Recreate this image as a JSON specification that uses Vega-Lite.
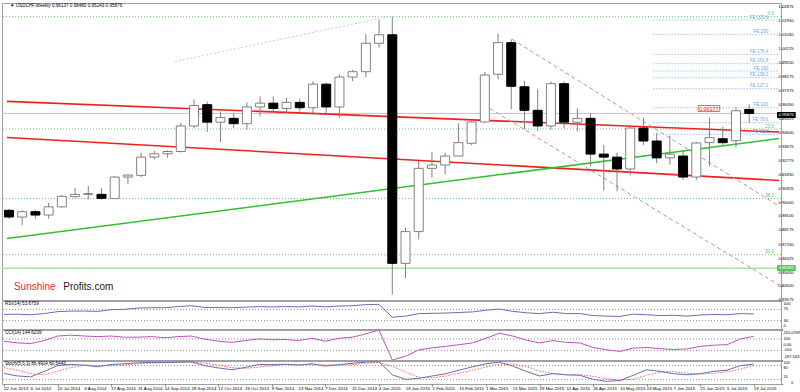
{
"$schema": "https://vega.github.io/schema/vega-lite/v6.json",
"background": "white",
"padding": {"left": 0, "top": 2, "right": 0, "bottom": 0},
"spacing": 1,
"bounds": "flush",
"config": {"font": "Liberation Sans", "view": {"stroke": "#a0a0a0", "strokeWidth": 1}, "axis": {"grid": false, "domain": false, "tickColor": "#808080", "tickSize": 1.5, "labelPadding": 1, "labelFontSize": 4.2, "labelColor": "#000000", "labelFont": "Liberation Sans", "title": null}},
"datasets": {
"w": [
{"d":"2014-06-22","o":0.8950,"h":0.8960,"l":0.8895,"c":0.8906,"r":52,"cc":58,"k":46,"s":71},
{"d":"2014-06-29","o":0.8906,"h":0.8952,"l":0.8853,"c":0.8941,"r":53,"cc":30,"k":35,"s":60},
{"d":"2014-07-06","o":0.8941,"h":0.8954,"l":0.8897,"c":0.8919,"r":51,"cc":20,"k":31,"s":45},
{"d":"2014-07-13","o":0.8919,"h":0.8999,"l":0.8894,"c":0.8973,"r":55,"cc":70,"k":55,"s":40},
{"d":"2014-07-20","o":0.8973,"h":0.9050,"l":0.8967,"c":0.9042,"r":62,"cc":150,"k":80,"s":55},
{"d":"2014-07-27","o":0.9040,"h":0.9099,"l":0.9033,"c":0.9055,"r":64,"cc":165,"k":85,"s":72},
{"d":"2014-08-03","o":0.9055,"h":0.9110,"l":0.9022,"c":0.9060,"r":64,"cc":150,"k":82,"s":82},
{"d":"2014-08-10","o":0.9055,"h":0.9095,"l":0.9022,"c":0.9029,"r":63,"cc":140,"k":75,"s":80},
{"d":"2014-08-17","o":0.9027,"h":0.9176,"l":0.9024,"c":0.9169,"r":69,"cc":150,"k":85,"s":80},
{"d":"2014-08-24","o":0.9169,"h":0.9187,"l":0.9121,"c":0.9182,"r":70,"cc":130,"k":88,"s":83},
{"d":"2014-08-31","o":0.9180,"h":0.9329,"l":0.9169,"c":0.9300,"r":75,"cc":130,"k":92,"s":88},
{"d":"2014-09-07","o":0.9300,"h":0.9340,"l":0.9285,"c":0.9322,"r":76,"cc":140,"k":94,"s":91},
{"d":"2014-09-14","o":0.9322,"h":0.9345,"l":0.9296,"c":0.9337,"r":76,"cc":120,"k":93,"s":93},
{"d":"2014-09-21","o":0.9337,"h":0.9525,"l":0.9330,"c":0.9505,"r":80,"cc":140,"k":95,"s":94},
{"d":"2014-09-28","o":0.9505,"h":0.9680,"l":0.9490,"c":0.9640,"r":83,"cc":150,"k":96,"s":95},
{"d":"2014-10-05","o":0.9645,"h":0.9665,"l":0.9465,"c":0.9530,"r":77,"cc":95,"k":80,"s":90},
{"d":"2014-10-12","o":0.9530,"h":0.9600,"l":0.9400,"c":0.9560,"r":77,"cc":60,"k":70,"s":82},
{"d":"2014-10-19","o":0.9555,"h":0.9590,"l":0.9490,"c":0.9520,"r":76,"cc":40,"k":62,"s":71},
{"d":"2014-10-26","o":0.9520,"h":0.9660,"l":0.9480,"c":0.9630,"r":78,"cc":70,"k":72,"s":68},
{"d":"2014-11-02","o":0.9630,"h":0.9700,"l":0.9570,"c":0.9655,"r":80,"cc":100,"k":85,"s":73},
{"d":"2014-11-09","o":0.9655,"h":0.9700,"l":0.9600,"c":0.9620,"r":79,"cc":85,"k":84,"s":80},
{"d":"2014-11-16","o":0.9620,"h":0.9690,"l":0.9590,"c":0.9660,"r":80,"cc":90,"k":86,"s":85},
{"d":"2014-11-23","o":0.9660,"h":0.9685,"l":0.9600,"c":0.9625,"r":79,"cc":70,"k":82,"s":84},
{"d":"2014-11-30","o":0.9625,"h":0.9800,"l":0.9590,"c":0.9780,"r":82,"cc":110,"k":88,"s":85},
{"d":"2014-12-07","o":0.9780,"h":0.9790,"l":0.9590,"c":0.9630,"r":79,"cc":60,"k":78,"s":83},
{"d":"2014-12-14","o":0.9630,"h":0.9845,"l":0.9560,"c":0.9827,"r":82,"cc":110,"k":84,"s":83},
{"d":"2014-12-21","o":0.9827,"h":0.9875,"l":0.9800,"c":0.9862,"r":83,"cc":130,"k":90,"s":84},
{"d":"2014-12-28","o":0.9862,"h":1.0108,"l":0.9827,"c":1.0049,"r":87,"cc":185,"k":95,"s":90},
{"d":"2015-01-04","o":1.0049,"h":1.0202,"l":1.0020,"c":1.0105,"r":88,"cc":255.0769,"k":97,"s":94},
{"d":"2015-01-11","o":1.0105,"h":1.0224,"l":0.8397,"c":0.8601,"r":42,"cc":-267.5431,"k":40,"s":77},
{"d":"2015-01-18","o":0.8601,"h":0.8835,"l":0.8503,"c":0.8810,"r":46,"cc":-200,"k":20,"s":52},
{"d":"2015-01-25","o":0.8810,"h":0.9274,"l":0.8759,"c":0.9226,"r":55,"cc":-90,"k":25,"s":28},
{"d":"2015-02-01","o":0.9226,"h":0.9335,"l":0.9164,"c":0.9248,"r":56,"cc":-55,"k":35,"s":27},
{"d":"2015-02-08","o":0.9248,"h":0.9329,"l":0.9187,"c":0.9307,"r":57,"cc":-30,"k":45,"s":35},
{"d":"2015-02-15","o":0.9307,"h":0.9522,"l":0.9307,"c":0.9395,"r":59,"cc":0,"k":60,"s":47},
{"d":"2015-02-22","o":0.9391,"h":0.9538,"l":0.9379,"c":0.9531,"r":61,"cc":30,"k":75,"s":60},
{"d":"2015-03-01","o":0.9531,"h":0.9860,"l":0.9526,"c":0.9840,"r":67,"cc":110,"k":88,"s":74},
{"d":"2015-03-08","o":0.9845,"h":1.0114,"l":0.9812,"c":1.0053,"r":71,"cc":200,"k":95,"s":86},
{"d":"2015-03-15","o":1.0053,"h":1.0075,"l":0.9614,"c":0.9766,"r":63,"cc":150,"k":78,"s":87},
{"d":"2015-03-22","o":0.9763,"h":0.9801,"l":0.9483,"c":0.9608,"r":58,"cc":80,"k":55,"s":76},
{"d":"2015-03-29","o":0.9608,"h":0.9746,"l":0.9472,"c":0.9505,"r":55,"cc":30,"k":35,"s":56},
{"d":"2015-04-05","o":0.9505,"h":0.9800,"l":0.9480,"c":0.9783,"r":60,"cc":70,"k":45,"s":45},
{"d":"2015-04-12","o":0.9783,"h":0.9800,"l":0.9490,"c":0.9530,"r":55,"cc":40,"k":40,"s":40},
{"d":"2015-04-19","o":0.9530,"h":0.9620,"l":0.9470,"c":0.9555,"r":55,"cc":30,"k":38,"s":41},
{"d":"2015-04-26","o":0.9555,"h":0.9590,"l":0.9240,"c":0.9320,"r":48,"cc":-50,"k":20,"s":33},
{"d":"2015-05-03","o":0.9320,"h":0.9380,"l":0.9080,"c":0.9300,"r":46,"cc":-90,"k":12,"s":23},
{"d":"2015-05-10","o":0.9300,"h":0.9330,"l":0.9075,"c":0.9222,"r":45,"cc":-118,"k":15,"s":16},
{"d":"2015-05-17","o":0.9222,"h":0.9500,"l":0.9180,"c":0.9491,"r":53,"cc":-60,"k":38,"s":21},
{"d":"2015-05-24","o":0.9491,"h":0.9560,"l":0.9380,"c":0.9406,"r":51,"cc":-50,"k":62,"s":38},
{"d":"2015-05-31","o":0.9406,"h":0.9460,"l":0.9260,"c":0.9295,"r":48,"cc":-70,"k":55,"s":52},
{"d":"2015-06-07","o":0.9295,"h":0.9440,"l":0.9250,"c":0.9320,"r":49,"cc":-85,"k":45,"s":54},
{"d":"2015-06-14","o":0.9307,"h":0.9340,"l":0.9150,"c":0.9169,"r":46,"cc":-75,"k":40,"s":47},
{"d":"2015-06-21","o":0.9169,"h":0.9400,"l":0.9150,"c":0.9393,"r":50,"cc":-30,"k":45,"s":43},
{"d":"2015-06-28","o":0.9395,"h":0.9559,"l":0.9241,"c":0.9428,"r":52,"cc":-10,"k":55,"s":47},
{"d":"2015-07-05","o":0.9421,"h":0.9500,"l":0.9380,"c":0.9395,"r":51,"cc":0,"k":60,"s":53},
{"d":"2015-07-12","o":0.9408,"h":0.9627,"l":0.9364,"c":0.9605,"r":55,"cc":100,"k":80,"s":65},
{"d":"2015-07-19","o":0.96137,"h":0.96480,"l":0.95243,"c":0.95876,"r":53.6759,"cc":144.6209,"k":86.4914,"s":80.5443}
],
"tl": [
{"g":"red1","d":"2014-06-20T22:54:00Z","p":0.96671},{"g":"red1","d":"2015-08-03T18:30:00Z","p":0.94651},
{"g":"red2","d":"2014-06-20T22:54:00Z","p":0.94296},{"g":"red2","d":"2015-08-03T18:30:00Z","p":0.91467},
{"g":"green","d":"2014-06-20T22:54:00Z","p":0.87645},{"g":"green","d":"2015-08-03T18:30:00Z","p":0.94224},
{"g":"gray","d":"2014-09-17T20:00:00Z","p":0.99289},{"g":"gray","d":"2015-01-08T18:00:00Z","p":1.02237},
{"g":"ch1","d":"2015-03-15T11:00:00Z","p":1.00750},{"g":"ch1","d":"2015-08-03T18:30:00Z","p":0.89783},
{"g":"ch2","d":"2015-02-28T14:30:00Z","p":0.96428},{"g":"ch2","d":"2015-08-03T18:30:00Z","p":0.84586}
],
"fe": [
{"t":"FE 223.6","p":1.0202,"d0":"2015-05-29T09:00:00Z","d1":"2015-08-03T18:30:00Z"},
{"t":"FE 200","p":1.0108,"d0":"2015-05-29T09:00:00Z","d1":"2015-08-03T18:30:00Z"},
{"t":"FE 176.4","p":0.9976,"d0":"2015-05-29T09:00:00Z","d1":"2015-08-03T18:30:00Z"},
{"t":"FE 161.8","p":0.99145,"d0":"2015-05-29T09:00:00Z","d1":"2015-08-03T18:30:00Z"},
{"t":"FE 150","p":0.98664,"d0":"2015-05-29T09:00:00Z","d1":"2015-08-03T18:30:00Z"},
{"t":"FE 138.2","p":0.98224,"d0":"2015-05-29T09:00:00Z","d1":"2015-08-03T18:30:00Z"},
{"t":"FE 127.2","p":0.97500,"d0":"2015-05-29T09:00:00Z","d1":"2015-08-03T18:30:00Z"},
{"t":"FE 100","p":0.96250,"d0":"2015-05-29T09:00:00Z","d1":"2015-08-03T18:30:00Z"},
{"t":"FE 78.6","p":0.95263,"d0":"2015-05-29T09:00:00Z","d1":"2015-08-03T18:30:00Z"},
{"t":"FE 61.8","p":0.94500,"d0":"2015-05-29T09:00:00Z","d1":"2015-08-03T18:30:00Z"}
],
"fib": [{"t":"0.0","p":1.0224},{"t":"23.6","p":0.9485},{"t":"38.2","p":0.9028},{"t":"50.0","p":0.8658}],
"ylab": [{"v":1.02875},{"v":1.0195},{"v":1.0105},{"v":1.00125},{"v":0.992},{"v":0.98275},{"v":0.97375},{"v":0.9645},{"v":0.95525},{"v":0.946},{"v":0.93675},{"v":0.92775},{"v":0.9185},{"v":0.90925},{"v":0.9},{"v":0.891},{"v":0.88175},{"v":0.8725},{"v":0.86325},{"v":0.854},{"v":0.845},{"v":0.83575}],
"xlab": [
{"d":"2014-06-22","t":"22 Jun 2014"},{"d":"2014-07-06","t":"6 Jul 2014"},{"d":"2014-07-20","t":"20 Jul 2014"},{"d":"2014-08-03","t":"3 Aug 2014"},{"d":"2014-08-17","t":"17 Aug 2014"},{"d":"2014-08-31","t":"31 Aug 2014"},{"d":"2014-09-14","t":"14 Sep 2014"},{"d":"2014-09-28","t":"28 Sep 2014"},{"d":"2014-10-12","t":"12 Oct 2014"},{"d":"2014-10-26","t":"26 Oct 2014"},{"d":"2014-11-09","t":"9 Nov 2014"},{"d":"2014-11-23","t":"23 Nov 2014"},{"d":"2014-12-07","t":"7 Dec 2014"},{"d":"2014-12-21","t":"21 Dec 2014"},{"d":"2015-01-04","t":"4 Jan 2015"},{"d":"2015-01-18","t":"18 Jan 2015"},{"d":"2015-02-01","t":"1 Feb 2015"},{"d":"2015-02-15","t":"15 Feb 2015"},{"d":"2015-03-01","t":"1 Mar 2015"},{"d":"2015-03-15","t":"15 Mar 2015"},{"d":"2015-03-29","t":"29 Mar 2015"},{"d":"2015-04-12","t":"12 Apr 2015"},{"d":"2015-04-26","t":"26 Apr 2015"},{"d":"2015-05-10","t":"10 May 2015"},{"d":"2015-05-24","t":"24 May 2015"},{"d":"2015-06-07","t":"7 Jun 2015"},{"d":"2015-06-21","t":"21 Jun 2015"},{"d":"2015-07-05","t":"5 Jul 2015"},{"d":"2015-07-19","t":"19 Jul 2015"}
]
},
"vconcat": [
{
"width": 779, "height": 297,
"layer": [
{"data": {"name": "fib"}, "mark": {"type": "rule", "color": "#66cc66", "strokeDash": [1, 2]},
 "encoding": {"y": {"field": "p", "type": "quantitative", "scale": {"domain": [0.836, 1.0314], "nice": false, "zero": false},
  "axis": {"orient": "right", "labels": false, "values": [1.02875,1.0195,1.0105,1.00125,0.992,0.98275,0.97375,0.9645,0.95525,0.946,0.93675,0.92775,0.9185,0.90925,0.9,0.891,0.88175,0.8725,0.86325,0.854,0.845,0.83575]}}}},
{"data": {"values": [{"p": 0.8569}]}, "mark": {"type": "rule", "color": "#a8e0a8", "strokeWidth": 1.5}, "encoding": {"y": {"field": "p", "type": "quantitative"}}},
{"data": {"values": [{"p": 0.95876}]}, "mark": {"type": "rule", "color": "#c4c4c4", "strokeWidth": 1}, "encoding": {"y": {"field": "p", "type": "quantitative"}}},
{"data": {"name": "fe"}, "mark": {"type": "rule", "color": "#6f9fe8", "strokeDash": [1, 2]},
 "encoding": {"x": {"field": "d0", "type": "temporal", "scale": {"type": "utc", "domain": [{"year": 2014, "month": 6, "date": 20, "hours": 22, "minutes": 54, "utc": true}, {"year": 2015, "month": 8, "date": 2, "hours": 4, "minutes": 50, "utc": true}]}, "axis": null},
  "x2": {"field": "d1"}, "y": {"field": "p", "type": "quantitative"}}},
{"data": {"name": "tl"}, "transform": [{"filter": "datum.g == 'red1' || datum.g == 'red2'"}], "mark": {"type": "line", "color": "#f02020", "strokeWidth": 1.6, "clip": true},
 "encoding": {"x": {"field": "d", "type": "temporal"}, "y": {"field": "p", "type": "quantitative"}, "detail": {"field": "g"}}},
{"data": {"name": "tl"}, "transform": [{"filter": "datum.g == 'green'"}], "mark": {"type": "line", "color": "#30c030", "strokeWidth": 1.5, "clip": true},
 "encoding": {"x": {"field": "d", "type": "temporal"}, "y": {"field": "p", "type": "quantitative"}}},
{"data": {"name": "tl"}, "transform": [{"filter": "datum.g == 'gray'"}], "mark": {"type": "line", "color": "#c8c8c8", "strokeWidth": 1, "strokeDash": [2, 2], "clip": true},
 "encoding": {"x": {"field": "d", "type": "temporal"}, "y": {"field": "p", "type": "quantitative"}}},
{"data": {"name": "tl"}, "transform": [{"filter": "datum.g == 'ch1' || datum.g == 'ch2'"}], "mark": {"type": "line", "color": "#c89090", "strokeWidth": 1, "strokeDash": [4, 3], "clip": true},
 "encoding": {"x": {"field": "d", "type": "temporal"}, "y": {"field": "p", "type": "quantitative"}, "detail": {"field": "g"}}},
{"data": {"name": "w"}, "mark": {"type": "rule", "color": "#808080", "strokeWidth": 1, "clip": true},
 "encoding": {"x": {"field": "d", "type": "temporal"}, "y": {"field": "l", "type": "quantitative"}, "y2": {"field": "h"}}},
{"data": {"name": "w"}, "mark": {"type": "bar", "width": 9, "strokeWidth": 1},
 "encoding": {"x": {"field": "d", "type": "temporal"}, "y": {"field": "o", "type": "quantitative"}, "y2": {"field": "c"},
  "fill": {"condition": {"test": "datum.c >= datum.o", "value": "#ffffff"}, "value": "#000000"},
  "stroke": {"condition": {"test": "datum.c >= datum.o", "value": "#808080"}, "value": "#000000"}}},
{"data": {"name": "fib"}, "mark": {"type": "text", "align": "right", "baseline": "bottom", "dy": -0.5, "fontSize": 4.5, "color": "#5fbf5f"},
 "encoding": {"x": {"datum": {"year": 2015, "month": 8, "date": 1, "hours": 3, "minutes": 50, "utc": true}, "type": "temporal"}, "y": {"field": "p", "type": "quantitative"}, "text": {"field": "t"}}},
{"data": {"name": "fe"}, "mark": {"type": "text", "align": "right", "baseline": "bottom", "dy": -0.5, "fontSize": 4.5, "color": "#6f9fe8"},
 "encoding": {"x": {"datum": {"year": 2015, "month": 7, "date": 29, "hours": 3, "minutes": 50, "utc": true}, "type": "temporal"}, "y": {"field": "p", "type": "quantitative"}, "text": {"field": "t"}}},
{"data": {"name": "ylab"}, "mark": {"type": "text", "align": "left", "baseline": "middle", "fontSize": 4.2, "color": "#000000"},
 "encoding": {"x": {"datum": {"year": 2015, "month": 8, "date": 3, "hours": 12, "utc": true}, "type": "temporal"}, "y": {"field": "v", "type": "quantitative"}, "text": {"field": "v", "type": "quantitative", "format": ".5f"}}},
{"data": {"values": [{"t": "▼ USDCHF,Weekly  0.96137 0.96480 0.95243 0.95876", "d": "2014-06-22T12:30:00Z", "p": 1.0294}]}, "mark": {"type": "text", "align": "left", "baseline": "middle", "fontSize": 4.6, "color": "#000000"},
 "encoding": {"x": {"field": "d", "type": "temporal"}, "y": {"field": "p", "type": "quantitative"}, "text": {"field": "t"}}},
{"data": {"values": [{"t": "Sunshine", "d": "2014-06-24T14:40:00Z", "p": 0.84257}]}, "mark": {"type": "text", "align": "left", "baseline": "alphabetic", "fontSize": 10, "color": "#e8283c"},
 "encoding": {"x": {"field": "d", "type": "temporal"}, "y": {"field": "p", "type": "quantitative"}, "text": {"field": "t"}}},
{"data": {"values": [{"t": "Profits.com", "d": "2014-07-20T18:00:00Z", "p": 0.84257}]}, "mark": {"type": "text", "align": "left", "baseline": "alphabetic", "fontSize": 10, "color": "#222222"},
 "encoding": {"x": {"field": "d", "type": "temporal"}, "y": {"field": "p", "type": "quantitative"}, "text": {"field": "t"}}},
{"data": {"values": [{"d0": "2015-06-21T21:40:00Z", "d1": "2015-07-03T09:40:00Z", "p0": 0.96395, "p1": 0.96000}]}, "mark": {"type": "rect", "fill": "#fff0f0", "stroke": "#f04040", "strokeWidth": 0.8},
 "encoding": {"x": {"field": "d0", "type": "temporal"}, "x2": {"field": "d1"}, "y": {"field": "p0", "type": "quantitative"}, "y2": {"field": "p1"}}},
{"data": {"values": [{"t": "0.96377", "d": "2015-06-27T15:30:00Z", "p": 0.96197}]}, "mark": {"type": "text", "align": "center", "baseline": "middle", "fontSize": 5.4, "color": "#f03030"},
 "encoding": {"x": {"field": "d", "type": "temporal"}, "y": {"field": "p", "type": "quantitative"}, "text": {"field": "t"}}},
{"data": {"values": [{"d0": "2015-08-02T17:15:00Z", "d1": "2015-08-12T15:50:00Z", "p0": 0.95967, "p1": 0.95572, "t": "0.95876", "dm": "2015-08-07T16:30:00Z", "pm": 0.95770}]}, "layer": [
  {"mark": {"type": "rect", "fill": "#000000"}, "encoding": {"x": {"field": "d0", "type": "temporal"}, "x2": {"field": "d1"}, "y": {"field": "p0", "type": "quantitative"}, "y2": {"field": "p1"}}},
  {"mark": {"type": "text", "align": "center", "baseline": "middle", "fontSize": 4.2, "color": "#ffffff"}, "encoding": {"x": {"field": "dm", "type": "temporal"}, "y": {"field": "pm", "type": "quantitative"}, "text": {"field": "t"}}}]},
{"data": {"values": [{"d0": "2015-08-02T17:15:00Z", "d1": "2015-08-12T15:50:00Z", "p0": 0.85901, "p1": 0.85507, "t": "0.85691", "dm": "2015-08-07T16:30:00Z", "pm": 0.85704}]}, "layer": [
  {"mark": {"type": "rect", "fill": "#5fbf5f"}, "encoding": {"x": {"field": "d0", "type": "temporal"}, "x2": {"field": "d1"}, "y": {"field": "p0", "type": "quantitative"}, "y2": {"field": "p1"}}},
  {"mark": {"type": "text", "align": "center", "baseline": "middle", "fontSize": 4.2, "color": "#ffffff"}, "encoding": {"x": {"field": "dm", "type": "temporal"}, "y": {"field": "pm", "type": "quantitative"}, "text": {"field": "t"}}}]}
]
},
{
"width": 779, "height": 28,
"layer": [
{"data": {"values": [{"v": 70}, {"v": 30}]}, "mark": {"type": "rule", "color": "#909090", "strokeDash": [1, 2]},
 "encoding": {"y": {"field": "v", "type": "quantitative", "scale": {"domain": [0, 100], "nice": false}, "axis": {"orient": "right", "labels": false, "values": [100, 70, 30, 0]}}}},
{"data": {"name": "w"}, "mark": {"type": "line", "color": "#6b6bb5", "strokeWidth": 1},
 "encoding": {"x": {"field": "d", "type": "temporal", "scale": {"type": "utc", "domain": [{"year": 2014, "month": 6, "date": 20, "hours": 22, "minutes": 54, "utc": true}, {"year": 2015, "month": 8, "date": 2, "hours": 4, "minutes": 50, "utc": true}]}, "axis": null}, "y": {"field": "r", "type": "quantitative"}}},
{"data": {"values": [{"t": "100", "v": 100}]}, "mark": {"type": "text", "align": "left", "baseline": "top", "dy": 1, "fontSize": 4.2, "color": "#000000"},
 "encoding": {"x": {"datum": {"year": 2015, "month": 8, "date": 3, "hours": 12, "utc": true}, "type": "temporal"}, "y": {"field": "v", "type": "quantitative"}, "text": {"field": "t"}}},
{"data": {"values": [{"t": "70", "v": 70}, {"t": "30", "v": 30}]}, "mark": {"type": "text", "align": "left", "baseline": "middle", "fontSize": 4.2, "color": "#000000"},
 "encoding": {"x": {"datum": {"year": 2015, "month": 8, "date": 3, "hours": 12, "utc": true}, "type": "temporal"}, "y": {"field": "v", "type": "quantitative"}, "text": {"field": "t"}}},
{"data": {"values": [{"t": "0", "v": 0}]}, "mark": {"type": "text", "align": "left", "baseline": "bottom", "dy": -1, "fontSize": 4.2, "color": "#000000"},
 "encoding": {"x": {"datum": {"year": 2015, "month": 8, "date": 3, "hours": 12, "utc": true}, "type": "temporal"}, "y": {"field": "v", "type": "quantitative"}, "text": {"field": "t"}}},
{"data": {"values": [{"t": "RSI(14) 53.6759", "d": "2014-06-22T12:30:00Z", "v": 88}]}, "mark": {"type": "text", "align": "left", "baseline": "middle", "fontSize": 4.6, "color": "#000000"},
 "encoding": {"x": {"field": "d", "type": "temporal"}, "y": {"field": "v", "type": "quantitative"}, "text": {"field": "t"}}}
]
},
{
"width": 779, "height": 30,
"layer": [
{"data": {"values": [{"v": 100}, {"v": -100}]}, "mark": {"type": "rule", "color": "#909090", "strokeDash": [1, 2]},
 "encoding": {"y": {"field": "v", "type": "quantitative", "scale": {"domain": [-267.5431, 255.0769], "nice": false, "zero": false}, "axis": {"orient": "right", "labels": false, "values": [255.0769, 100, 0, -100, -267.5431]}}}},
{"data": {"name": "w"}, "mark": {"type": "line", "color": "#c050c0", "strokeWidth": 1},
 "encoding": {"x": {"field": "d", "type": "temporal", "scale": {"type": "utc", "domain": [{"year": 2014, "month": 6, "date": 20, "hours": 22, "minutes": 54, "utc": true}, {"year": 2015, "month": 8, "date": 2, "hours": 4, "minutes": 50, "utc": true}]}, "axis": null}, "y": {"field": "cc", "type": "quantitative"}}},
{"data": {"values": [{"t": "255.0769", "v": 255.0769}]}, "mark": {"type": "text", "align": "left", "baseline": "top", "dy": 1, "fontSize": 4.0, "color": "#000000"},
 "encoding": {"x": {"datum": {"year": 2015, "month": 8, "date": 3, "hours": 12, "utc": true}, "type": "temporal"}, "y": {"field": "v", "type": "quantitative"}, "text": {"field": "t"}}},
{"data": {"values": [{"t": "100", "v": 100}, {"t": "0.00", "v": 0}, {"t": "-100", "v": -100}]}, "mark": {"type": "text", "align": "left", "baseline": "middle", "fontSize": 4.0, "color": "#000000"},
 "encoding": {"x": {"datum": {"year": 2015, "month": 8, "date": 3, "hours": 12, "utc": true}, "type": "temporal"}, "y": {"field": "v", "type": "quantitative"}, "text": {"field": "t"}}},
{"data": {"values": [{"t": "-267.5431", "v": -267.5431}]}, "mark": {"type": "text", "align": "left", "baseline": "bottom", "dy": -1, "fontSize": 4.0, "color": "#000000"},
 "encoding": {"x": {"datum": {"year": 2015, "month": 8, "date": 3, "hours": 12, "utc": true}, "type": "temporal"}, "y": {"field": "v", "type": "quantitative"}, "text": {"field": "t"}}},
{"data": {"values": [{"t": "CCI(14) 144.6209", "d": "2014-06-22T12:30:00Z", "v": 200}]}, "mark": {"type": "text", "align": "left", "baseline": "middle", "fontSize": 4.6, "color": "#000000"},
 "encoding": {"x": {"field": "d", "type": "temporal"}, "y": {"field": "v", "type": "quantitative"}, "text": {"field": "t"}}}
]
},
{
"width": 779, "height": 23,
"layer": [
{"data": {"values": [{"v": 80}, {"v": 20}]}, "mark": {"type": "rule", "color": "#909090", "strokeDash": [1, 2]},
 "encoding": {"y": {"field": "v", "type": "quantitative", "scale": {"domain": [0, 100], "nice": false}, "axis": {"orient": "right", "labels": false, "values": [100, 80, 20, 0]}}}},
{"data": {"name": "w"}, "mark": {"type": "line", "color": "#ff6060", "strokeWidth": 1, "strokeDash": [1.5, 1.5]},
 "encoding": {"x": {"field": "d", "type": "temporal", "scale": {"type": "utc", "domain": [{"year": 2014, "month": 6, "date": 20, "hours": 22, "minutes": 54, "utc": true}, {"year": 2015, "month": 8, "date": 2, "hours": 4, "minutes": 50, "utc": true}]},
   "axis": {"orient": "bottom", "labels": false, "tickSize": 2, "domain": false,
    "values": [{"year":2014,"month":6,"date":22,"utc":true},{"year":2014,"month":7,"date":6,"utc":true},{"year":2014,"month":7,"date":20,"utc":true},{"year":2014,"month":8,"date":3,"utc":true},{"year":2014,"month":8,"date":17,"utc":true},{"year":2014,"month":8,"date":31,"utc":true},{"year":2014,"month":9,"date":14,"utc":true},{"year":2014,"month":9,"date":28,"utc":true},{"year":2014,"month":10,"date":12,"utc":true},{"year":2014,"month":10,"date":26,"utc":true},{"year":2014,"month":11,"date":9,"utc":true},{"year":2014,"month":11,"date":23,"utc":true},{"year":2014,"month":12,"date":7,"utc":true},{"year":2014,"month":12,"date":21,"utc":true},{"year":2015,"month":1,"date":4,"utc":true},{"year":2015,"month":1,"date":18,"utc":true},{"year":2015,"month":2,"date":1,"utc":true},{"year":2015,"month":2,"date":15,"utc":true},{"year":2015,"month":3,"date":1,"utc":true},{"year":2015,"month":3,"date":15,"utc":true},{"year":2015,"month":3,"date":29,"utc":true},{"year":2015,"month":4,"date":12,"utc":true},{"year":2015,"month":4,"date":26,"utc":true},{"year":2015,"month":5,"date":10,"utc":true},{"year":2015,"month":5,"date":24,"utc":true},{"year":2015,"month":6,"date":7,"utc":true},{"year":2015,"month":6,"date":21,"utc":true},{"year":2015,"month":7,"date":5,"utc":true},{"year":2015,"month":7,"date":19,"utc":true}]}},
  "y": {"field": "s", "type": "quantitative"}}},
{"data": {"name": "w"}, "mark": {"type": "line", "color": "#6b6bb5", "strokeWidth": 1},
 "encoding": {"x": {"field": "d", "type": "temporal"}, "y": {"field": "k", "type": "quantitative"}}},
{"data": {"values": [{"t": "100", "v": 100}]}, "mark": {"type": "text", "align": "left", "baseline": "top", "dy": 0, "fontSize": 3.8, "color": "#000000"},
 "encoding": {"x": {"datum": {"year": 2015, "month": 8, "date": 3, "hours": 12, "utc": true}, "type": "temporal"}, "y": {"field": "v", "type": "quantitative"}, "text": {"field": "t"}}},
{"data": {"values": [{"t": "80", "v": 80}]}, "mark": {"type": "text", "align": "left", "baseline": "top", "dy": 0.5, "fontSize": 3.8, "color": "#000000"},
 "encoding": {"x": {"datum": {"year": 2015, "month": 8, "date": 3, "hours": 12, "utc": true}, "type": "temporal"}, "y": {"field": "v", "type": "quantitative"}, "text": {"field": "t"}}},
{"data": {"values": [{"t": "20", "v": 20}]}, "mark": {"type": "text", "align": "left", "baseline": "bottom", "dy": -0.5, "fontSize": 3.8, "color": "#000000"},
 "encoding": {"x": {"datum": {"year": 2015, "month": 8, "date": 3, "hours": 12, "utc": true}, "type": "temporal"}, "y": {"field": "v", "type": "quantitative"}, "text": {"field": "t"}}},
{"data": {"values": [{"t": "0", "v": 0}]}, "mark": {"type": "text", "align": "left", "baseline": "bottom", "dy": 0.5, "fontSize": 3.8, "color": "#000000"},
 "encoding": {"x": {"datum": {"year": 2015, "month": 8, "date": 7, "hours": 12, "utc": true}, "type": "temporal"}, "y": {"field": "v", "type": "quantitative"}, "text": {"field": "t"}}},
{"data": {"name": "xlab"}, "mark": {"type": "text", "align": "left", "baseline": "top", "fontSize": 4.4, "color": "#000000"},
 "encoding": {"x": {"field": "d", "type": "temporal"}, "y": {"datum": -11, "type": "quantitative"}, "text": {"field": "t"}}},
{"data": {"values": [{"t": "Stoch(5,3,3) 86.4914 80.5443", "d": "2014-06-22T12:30:00Z", "v": 86}]}, "mark": {"type": "text", "align": "left", "baseline": "middle", "fontSize": 4.6, "color": "#000000"},
 "encoding": {"x": {"field": "d", "type": "temporal"}, "y": {"field": "v", "type": "quantitative"}, "text": {"field": "t"}}}
]
}
]
}
